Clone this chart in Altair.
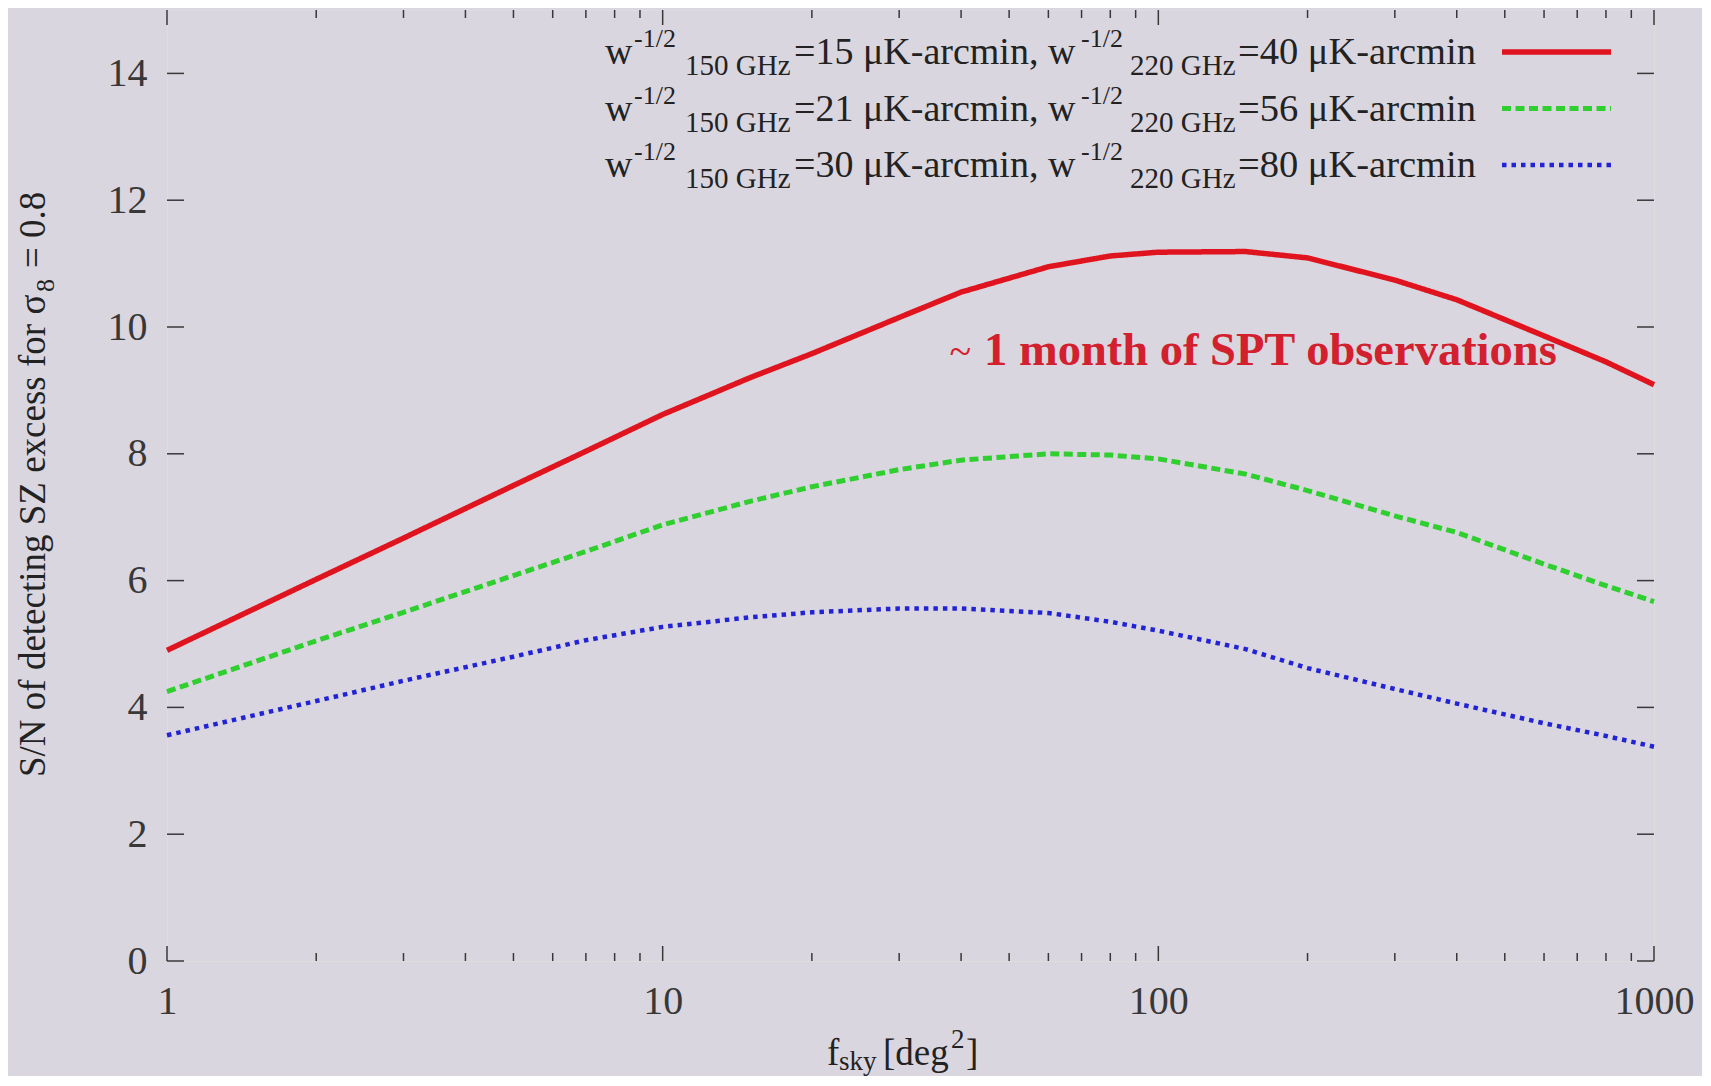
import altair as alt
import pandas as pd

# ---------------- data ----------------
f_sky = [1, 2, 3, 5, 7, 10, 15, 20, 30, 40, 60, 80, 100, 150, 200, 300, 400, 600, 800, 1000]
sn_15_40 = [4.90, 6.02, 6.67, 7.50, 8.04, 8.62, 9.20, 9.58, 10.15, 10.55, 10.95, 11.12, 11.18, 11.19, 11.09, 10.74, 10.43, 9.86, 9.45, 9.09]
sn_21_56 = [4.25, 5.05, 5.50, 6.08, 6.46, 6.88, 7.25, 7.48, 7.75, 7.90, 8.00, 7.98, 7.92, 7.68, 7.42, 7.02, 6.76, 6.26, 5.92, 5.67]
sn_30_80 = [3.56, 4.10, 4.42, 4.80, 5.06, 5.27, 5.42, 5.50, 5.56, 5.56, 5.49, 5.35, 5.21, 4.92, 4.62, 4.29, 4.06, 3.75, 3.55, 3.38]

series_ids = ["15/40", "21/56", "30/80"]
w150 = ["15", "21", "30"]
w220 = ["40", "56", "80"]

x_major = [1, 10, 100, 1000]
x_minor = [2, 3, 4, 5, 6, 7, 8, 9, 20, 30, 40, 50, 60, 70, 80, 90, 200, 300, 400, 500, 600, 700, 800, 900]
y_ticks = [0, 2, 4, 6, 8, 10, 12, 14]

annotation = "1 month of SPT observations"

# ---------------- styling ----------------
W, H = 1487, 951
SERIF = "Liberation Serif"
BG = "#dad6df"
AX = "#383838"
TXT = "#222222"
ANN = "#d3202e"

rows = []
for sid, vals in zip(series_ids, [sn_15_40, sn_21_56, sn_30_80]):
    for f, v in zip(f_sky, vals):
        rows.append({"f": f, "sn": v, "series": sid})
df = pd.DataFrame(rows)

xscale = alt.Scale(type="log", domain=[1, 1000])
yscale = alt.Scale(domain=[0, 15])
cscale = alt.Scale(domain=series_ids, range=["#e0141e", "#2ecf2e", "#2323d6"])
dscale = alt.Scale(domain=series_ids, range=[[1, 0], [9, 4.5], [4.5, 5]])
wscale = alt.Scale(domain=series_ids, range=[5.5, 4.5, 4])

xaxis = alt.Axis(values=x_major, format="d", title=None, ticks=False, domain=False,
                 grid=False, labelFlush=False, labelOverlap=False, labelPadding=20,
                 labelFont=SERIF, labelFontSize=40, labelColor=AX)
yaxis = alt.Axis(values=y_ticks, title=None, ticks=False, domain=False, grid=False,
                 labelOverlap=False, labelPadding=20, labelFont=SERIF, labelFontSize=40,
                 labelColor=AX)

lines = alt.Chart(df).mark_line().encode(
    x=alt.X("f:Q", scale=xscale, axis=xaxis),
    y=alt.Y("sn:Q", scale=yscale, axis=yaxis),
    color=alt.Color("series:N", scale=cscale, legend=None),
    strokeDash=alt.StrokeDash("series:N", scale=dscale, legend=None),
    strokeWidth=alt.StrokeWidth("series:N", scale=wscale, legend=None),
)

layers = [lines]

# inward ticks (gnuplot style), mirrored on top and right
def xticks(vals, y0, y1):
    return alt.Chart(pd.DataFrame({"f": vals})).mark_rule(color=AX, strokeWidth=1.5).encode(
        x=alt.X("f:Q", scale=xscale, axis=xaxis), y=alt.value(y0), y2=alt.value(y1))

def yticks(vals, x0, x1):
    return alt.Chart(pd.DataFrame({"sn": vals})).mark_rule(color=AX, strokeWidth=1.5).encode(
        y=alt.Y("sn:Q", scale=yscale, axis=yaxis), x=alt.value(x0), x2=alt.value(x1))

layers += [
    xticks(x_major, H, H - 15), xticks(x_minor, H, H - 8),
    xticks(x_major, 0, 15), xticks(x_minor, 0, 8),
    yticks(y_ticks, 0, 17), yticks(y_ticks, W, W - 17),
]

def txt(text, x, y, size, color=TXT, align="left", weight="normal", angle=0):
    props = dict(align=align, baseline="alphabetic", font=SERIF, fontSize=size,
                 color=color, fontWeight=weight)
    if angle:
        props["angle"] = angle
    return alt.Chart(pd.DataFrame({"t": [text]})).mark_text(**props).encode(
        text="t:N", x=alt.value(x), y=alt.value(y))

# custom legend with super/subscripts
leg_df = pd.DataFrame({"series": series_ids, "row": [0, 1, 2]})
for i, sid in enumerate(series_ids):
    base = 54 + 56.5 * i
    layers += [
        txt("w", 438, base, 38),
        txt("-1/2", 467, base - 17, 26),
        txt("150 GHz", 518, base + 11, 29),
        txt("=" + w150[i] + " \u03bcK-arcmin, w", 627, base, 38),
        txt("-1/2", 914, base - 17, 26),
        txt("220 GHz", 963, base + 11, 29),
        txt("=" + w220[i] + " \u03bcK-arcmin", 1071, base, 38.5),
    ]
    layers.append(
        alt.Chart(leg_df[leg_df.series == sid]).mark_rule().encode(
            x=alt.value(1335), x2=alt.value(1444), y=alt.value(base - 12),
            color=alt.Color("series:N", scale=cscale, legend=None),
            strokeDash=alt.StrokeDash("series:N", scale=dscale, legend=None),
            strokeWidth=alt.StrokeWidth("series:N", scale=wscale, legend=None),
        )
    )

# annotation in data coordinates
ann_f, ann_sn = 44.5, 9.40
ann_df = pd.DataFrame({"f": [ann_f], "sn": [ann_sn], "t": [annotation], "tilde": ["~"]})
layers.append(alt.Chart(ann_df).mark_text(align="left", baseline="alphabetic", font=SERIF,
                                          fontSize=46.5, fontWeight="bold", color=ANN).encode(
    x=alt.X("f:Q", scale=xscale, axis=xaxis), y=alt.Y("sn:Q", scale=yscale, axis=yaxis), text="t:N"))
layers.append(alt.Chart(ann_df).mark_text(align="right", baseline="alphabetic", font=SERIF,
                                          fontSize=40, color=ANN, dx=-13).encode(
    x=alt.X("f:Q", scale=xscale, axis=xaxis), y=alt.Y("sn:Q", scale=yscale, axis=yaxis), text="tilde:N"))

# x-axis title: f_sky [deg^2]
layers += [
    txt("f", 660, 1055, 37),
    txt("sky", 672, 1060, 27),
    txt("[deg", 716, 1055, 37),
    txt("2", 784, 1038, 27),
    txt("]", 799, 1055, 37),
]

# y-axis title (rotated): S/N of detecting SZ excess for sigma_8 = 0.8
layers += [
    txt("S/N of detecting SZ excess for \u03c3", -122, 767, 37, angle=270),
    txt("8", -113, 282, 26, angle=270),
    txt("= 0.8", -122, 258, 37, angle=270),
]

chart = alt.layer(*layers).properties(
    width=W, height=H,
    padding={"left": 159, "top": 2, "right": 48, "bottom": 115},
    autosize=alt.AutoSizeParams(type="none"),
).configure_view(stroke=AX, strokeWidth=2).configure(background=BG)

chart.save("out.html", embed_options={"renderer": "svg", "actions": False})
